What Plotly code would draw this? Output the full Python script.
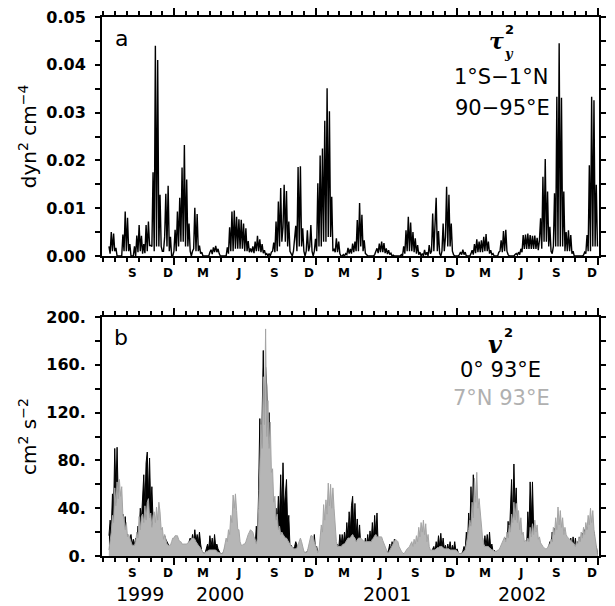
import pandas as pd
import plotly.graph_objects as go

# ---------------- data (3-day sampling starting 1999-07-16) ----------------
START = "1999-07-16"
STEP = "3D"

tau_y2 = [
    0.002, 0.0005, 0.005, 0.001, 0.0047, 0.001, 0.0017, 0, 0, 0,
    0, 0, 0.0045, 0.001, 0.0093, 0.001, 0.008, 0.001, 0.0025, 0,
    0, 0, 0.002, 0, 0.0043, 0.0008, 0.0065, 0.001, 0.0042, 0.0005,
    0.0025, 0.0006, 0.0065, 0.001, 0.0072, 0.0022, 0.0022, 0.002, 0.0175, 0.001,
    0.044, 0.002, 0.041, 0.002, 0.0128, 0.002, 0.001, 0.001, 0.004, 0.013,
    0.002, 0.0147, 0.001, 0.004, 0, 0, 0.001, 0.0055, 0.001, 0.0093,
    0.002, 0.0122, 0.003, 0.0185, 0.003, 0.0232, 0.002, 0.016, 0.002, 0.0068,
    0.001, 0, 0.001, 0.0015, 0.0101, 0.001, 0.0088, 0.001, 0.0022, 0.0005,
    0.0008, 0, 0, 0, 0, 0, 0, 0.0008, 0.0013, 0.0004,
    0.0018, 0.0008, 0.0021, 0.0008, 0.0015, 0.0005, 0, 0, 0, 0,
    0, 0, 0.0018, 0.0005, 0.006, 0.001, 0.0093, 0.001, 0.0095, 0.0015,
    0.0082, 0.0015, 0.0077, 0.0015, 0.0076, 0.0015, 0.0068, 0.001, 0.0058, 0.001,
    0.0031, 0.0008, 0.0016, 0.0008, 0.002, 0.0006, 0.003, 0.001, 0.0042, 0.001,
    0.0035, 0.0008, 0.0025, 0.0006, 0.0012, 0.0003, 0.0005, 0, 0.0005, 0,
    0.0008, 0.001, 0.0028, 0.0008, 0.0072, 0.001, 0.0114, 0.002, 0.0142, 0.003,
    0.006, 0.0149, 0.003, 0.0136, 0.002, 0.0072, 0.001, 0.0005, 0, 0.001,
    0.0035, 0.0063, 0.001, 0.0186, 0.002, 0.0188, 0.002, 0.0058, 0.001, 0,
    0.001, 0.0054, 0.001, 0.002, 0.0065, 0.001, 0, 0.001, 0.0036, 0.001,
    0.0152, 0.002, 0.021, 0.002, 0.0225, 0.003, 0.0283, 0.003, 0.0351, 0.004,
    0.0303, 0.004, 0.0124, 0.001, 0.0015, 0.0008, 0.0037, 0.0008, 0.003, 0.0005,
    0, 0, 0.0003, 0, 0.0005, 0.0003, 0.0017, 0.0005, 0.0015, 0.0005,
    0.0026, 0.0008, 0.003, 0.001, 0.0075, 0.001, 0.0111, 0.002, 0.0086, 0.001,
    0.0033, 0.0005, 0.0003, 0, 0, 0, 0, 0, 0, 0.0003,
    0.0008, 0.0016, 0.0006, 0.0026, 0.0008, 0.003, 0.0008, 0.0027, 0.0006, 0.0016,
    0.0004, 0.0012, 0.0003, 0.0006, 0, 0.0002, 0, 0, 0, 0,
    0, 0, 0.0003, 0, 0.002, 0.0005, 0.0054, 0.001, 0.0082, 0.001,
    0.007, 0.001, 0.005, 0.0008, 0.0037, 0.0005, 0.0023, 0.0003, 0.0008, 0,
    0.0005, 0, 0.0013, 0.0002, 0.0008, 0, 0.0023, 0.0005, 0.001, 0.0089,
    0.001, 0.006, 0.0122, 0.001, 0.0052, 0.0005, 0, 0.001, 0.0068, 0.001,
    0.004, 0.0145, 0.002, 0.0128, 0.002, 0.0068, 0.001, 0.0003, 0, 0,
    0, 0, 0.0003, 0.0008, 0.0003, 0.0013, 0.0003, 0.0008, 0, 0,
    0, 0, 0.0005, 0.0012, 0.0003, 0.0025, 0.0006, 0.0035, 0.0008, 0.003,
    0.0008, 0.0033, 0.0008, 0.004, 0.001, 0.0046, 0.001, 0.003, 0.0005, 0.0012,
    0.0003, 0.0005, 0, 0, 0, 0, 0.0008, 0.001, 0.0033, 0.0008,
    0.0052, 0.001, 0.0055, 0.001, 0.0003, 0, 0, 0, 0, 0,
    0.0003, 0.0005, 0.0002, 0.0008, 0.0003, 0.0015, 0.0008, 0.0044, 0.0015, 0.0045,
    0.0015, 0.0047, 0.0015, 0.0044, 0.0015, 0.0042, 0.0015, 0.0043, 0.0015, 0.0038,
    0.0012, 0.0033, 0.0079, 0.0015, 0.0166, 0.003, 0.0203, 0.003, 0.0135, 0.002,
    0.0061, 0.001, 0.0005, 0.002, 0.0131, 0.002, 0.0333, 0.002, 0.0445, 0.002,
    0.0331, 0.002, 0.0135, 0.001, 0.005, 0.001, 0.0054, 0.001, 0.0044, 0.0005,
    0.001, 0, 0, 0, 0, 0, 0, 0, 0, 0.0002,
    0.0008, 0.0005, 0.0044, 0.001, 0.019, 0.001, 0.0333, 0.002, 0.0326, 0.002,
    0.0149, 0.002,
]

v2_eq_93e = [
    17, 30, 22, 52, 40, 90, 55, 91, 48, 56,
    45, 28, 35, 22, 33, 18, 18, 10, 15, 18,
    10, 14, 9, 15, 12, 25, 20, 40, 30, 53,
    68, 42, 78, 87, 50, 82, 40, 58, 30, 30,
    28, 18, 22, 15, 20, 14, 18, 12, 17, 14,
    12, 10, 8, 8, 6, 6, 6, 7, 7, 7,
    8, 8, 8, 8, 8, 8, 9, 9, 9, 12,
    15, 10, 18, 12, 22, 12, 18, 11, 20, 10,
    4, 3, 2, 3, 6, 10, 6, 17, 8, 15,
    6, 18, 8, 10, 6, 3, 2, 2, 2, 4,
    8, 10, 7, 14, 9, 20, 12, 22, 14, 23,
    12, 16, 8, 8, 5, 5, 5, 5, 5, 5,
    5, 5, 5, 7, 5, 10, 8, 25, 12, 55,
    115, 60, 140, 172, 100, 158, 142, 90, 120, 60,
    60, 35, 48, 30, 40, 25, 50, 30, 68, 35,
    78, 40, 51, 64, 25, 34, 8, 9, 5, 7,
    8, 12, 8, 6, 5, 5, 5, 4, 3, 3,
    3, 4, 6, 8, 5, 12, 8, 18, 6, 8,
    3, 3, 4, 5, 5, 5, 5, 5, 5, 5,
    5, 5, 5, 5, 5, 5, 5, 10, 6, 18,
    8, 18, 10, 20, 12, 28, 15, 37, 20, 42,
    50, 22, 44, 18, 31, 14, 26, 8, 9, 10,
    6, 15, 8, 18, 10, 21, 12, 28, 15, 34,
    18, 36, 10, 15, 6, 5, 5, 5, 4, 3,
    3, 5, 10, 4, 12, 6, 14, 5, 8, 5,
    4, 3, 3, 2, 2, 2, 2, 2, 2, 3,
    3, 3, 3, 3, 4, 4, 4, 4, 4, 4,
    4, 4, 4, 4, 4, 3, 3, 3, 3, 6,
    8, 4, 12, 6, 17, 8, 19, 7, 15, 6,
    9, 4, 10, 5, 12, 4, 9, 5, 12, 4,
    6, 3, 2, 2, 2, 4, 8, 5, 20, 10,
    36, 20, 58, 30, 68, 40, 50, 20, 30, 12,
    22, 8, 15, 6, 17, 8, 18, 8, 20, 6,
    10, 4, 5, 3, 4, 3, 3, 4, 5, 8,
    10, 6, 15, 8, 29, 14, 50, 64, 30, 77,
    40, 57, 20, 30, 12, 23, 6, 10, 5, 12,
    8, 37, 20, 62, 30, 62, 23, 10, 5, 8,
    7, 6, 5, 5, 4, 4, 3, 3, 5, 8,
    12, 6, 20, 8, 23, 10, 18, 6, 13, 5,
    10, 5, 12, 6, 13, 6, 14, 6, 15, 6,
    16, 7, 15, 6, 12, 6, 16, 8, 19, 9,
    22, 10, 24, 12, 25, 12, 24, 10, 20, 8,
    8, 2,
]

v2_7n_93e = [
    5, 12, 20, 34, 28, 57, 42, 62, 48, 64,
    50, 58, 34, 31, 22, 28, 16, 18, 15, 12,
    9, 9, 9, 12, 20, 15, 33, 22, 33, 35,
    28, 42, 30, 45, 48, 32, 36, 24, 34, 37,
    28, 41, 30, 45, 37, 22, 24, 14, 18, 14,
    10, 9, 9, 9, 12, 15, 15, 17, 17, 17,
    14, 12, 12, 10, 10, 10, 10, 10, 11, 12,
    13, 14, 15, 15, 14, 12, 10, 9, 8, 6,
    4, 3, 2, 3, 4, 4, 5, 5, 5, 5,
    5, 5, 5, 4, 3, 3, 2, 2, 2, 5,
    10, 15, 12, 22, 18, 34, 28, 51, 40, 52,
    38, 22, 22, 12, 9, 9, 10, 10, 12, 16,
    18, 20, 22, 21, 20, 16, 14, 10, 15, 40,
    80, 110, 90, 150, 110, 190, 100, 130, 90, 112,
    70, 73, 45, 50, 30, 35, 22, 25, 18, 20,
    18, 16, 15, 15, 13, 12, 9, 8, 8, 6,
    6, 6, 7, 10, 13, 15, 12, 8, 4, 3,
    3, 4, 8, 12, 17, 17, 16, 12, 9, 7,
    3, 5, 15, 26, 20, 43, 30, 47, 35, 61,
    42, 60, 40, 57, 40, 25, 12, 8, 8, 8,
    8, 9, 10, 10, 12, 14, 15, 15, 15, 17,
    18, 16, 15, 12, 14, 15, 15, 15, 14, 13,
    12, 12, 12, 12, 12, 12, 12, 14, 15, 17,
    18, 16, 16, 16, 16, 16, 13, 10, 8, 4,
    3, 3, 5, 6, 8, 10, 12, 14, 13, 12,
    8, 5, 4, 3, 2, 3, 5, 6, 7, 8,
    10, 12, 8, 14, 10, 17, 12, 24, 16, 28,
    20, 30, 18, 27, 12, 18, 8, 5, 5, 5,
    5, 5, 6, 7, 7, 8, 8, 8, 7, 6,
    6, 6, 6, 6, 5, 5, 5, 5, 5, 5,
    4, 3, 2, 2, 2, 3, 4, 5, 10, 15,
    22, 30, 25, 45, 32, 65, 45, 70, 40, 48,
    35, 20, 15, 10, 8, 8, 8, 8, 7, 6,
    5, 5, 4, 4, 4, 5, 5, 7, 9, 12,
    14, 16, 12, 20, 15, 26, 20, 35, 28, 45,
    30, 44, 28, 38, 22, 32, 18, 20, 12, 13,
    12, 15, 12, 24, 16, 27, 18, 30, 20, 26,
    14, 16, 11, 9, 8, 7, 6, 6, 7, 9,
    10, 14, 12, 24, 18, 32, 22, 41, 26, 38,
    24, 32, 18, 24, 18, 16, 15, 14, 13, 12,
    11, 10, 8, 12, 10, 16, 12, 20, 15, 24,
    18, 28, 22, 34, 26, 40, 28, 38, 22, 15,
    10, 2,
]

month_tick_dates = [
    "1999-09-15", "1999-12-15", "2000-03-15", "2000-06-15", "2000-09-15",
    "2000-12-15", "2001-03-15", "2001-06-15", "2001-09-15", "2001-12-15",
    "2002-03-15", "2002-06-15", "2002-09-15", "2002-12-15",
]
month_tick_text = ["S", "D", "M", "J", "S", "D", "M", "J", "S", "D", "M", "J", "S", "D"]

year_labels = ["1999", "2000", "2001", "2002"]
year_label_dates = ["1999-10-03", "2000-04-27", "2001-07-04", "2002-06-17"]

tau_ticks = [0.0, 0.01, 0.02, 0.03, 0.04, 0.05]
tau_tick_text = ["0.00", "0.01", "0.02", "0.03", "0.04", "0.05"]
v2_ticks = [0, 40, 80, 120, 160, 200]
v2_tick_text = ["0.", "40.", "80.", "120.", "160.", "200."]

# ---------------- figure ----------------
dates = pd.date_range(START, periods=len(tau_y2), freq=STEP)

W, H = 615, 606
L, R, T, B = 102, 16, 17, 50
PW, PH = W - L - R, H - T - B


def pxx(x):
    return (x - L) / PW


def pxy(y):
    return (H - B - y) / PH


XR = ["1999-06-28", "2003-01-03"]
TOP_DOM = [pxy(256), 1.0]
BOT_DOM = [0.0, pxy(317)]

fig = go.Figure()
fig.add_trace(go.Scatter(x=dates, y=tau_y2, mode="lines",
                         line=dict(color="black", width=1.4),
                         xaxis="x", yaxis="y", showlegend=False))
fig.add_trace(go.Scatter(x=dates, y=v2_eq_93e, mode="lines",
                         line=dict(color="black", width=1),
                         fill="tozeroy", fillcolor="black",
                         xaxis="x2", yaxis="y2", showlegend=False))
fig.add_trace(go.Scatter(x=dates, y=v2_7n_93e, mode="lines",
                         line=dict(color="#a4a4a4", width=1),
                         fill="tozeroy", fillcolor="#b6b6b6",
                         xaxis="x2", yaxis="y2", showlegend=False))

tickfont = dict(family="DejaVu Sans", size=16, color="black")


def time_axis(anchor):
    return dict(type="date", range=XR, anchor=anchor, showline=True, linewidth=2,
                linecolor="black", mirror="allticks", ticks="outside", ticklen=7,
                tickwidth=2, tickcolor="black", tick0="2000-01-01", dtick="M12",
                showticklabels=False, showgrid=False, zeroline=False,
                minor=dict(ticks="outside", ticklen=4, tickwidth=2, tickcolor="black",
                           dtick="M1", tick0="2000-01-01", showgrid=False))


def val_axis(dom, rng, tickvals, ticktext, minor_dtick, title):
    return dict(domain=dom, range=rng, tickmode="array", tickvals=tickvals,
                ticktext=["<b>%s</b>" % t for t in ticktext],
                showline=True, linewidth=2,
                linecolor="black", mirror="allticks", ticks="outside", ticklen=5,
                tickwidth=2, tickcolor="black", showgrid=False, zeroline=False,
                tickfont=tickfont, ticklabelstandoff=6,
                minor=dict(ticks="outside", ticklen=5, tickwidth=2, tickcolor="black",
                           dtick=minor_dtick, tick0=0, showgrid=False),
                title=dict(text=title, standoff=4,
                           font=dict(family="DejaVu Sans", size=20, color="black")))


fig.update_layout(
    width=W, height=H, margin=dict(l=L, r=R, t=T, b=B, autoexpand=False),
    paper_bgcolor="white", plot_bgcolor="white", showlegend=False,
    xaxis=time_axis("y"),
    xaxis2=time_axis("y2"),
    yaxis=val_axis(TOP_DOM, [0, 0.05], tau_ticks, tau_tick_text, 0.005,
                   "dyn<sup>2</sup> cm<sup>−4</sup>"),
    yaxis2=val_axis(BOT_DOM, [0, 200], v2_ticks, v2_tick_text, 20,
                    "cm<sup>2</sup> s<sup>−2</sup>"),
)

ann = []


def add_text(text, x, y, size, color="black", family="DejaVu Sans"):
    ann.append(dict(text=text, x=pxx(x), y=pxy(y), xref="paper", yref="paper",
                    xanchor="center", yanchor="middle", showarrow=False,
                    font=dict(family=family, size=size, color=color)))


add_text("a", 121, 38, 22)
add_text("b", 121, 337, 22)
add_text("<b><i>τ</i></b>", 496, 41, 22, family="DejaVu Serif")
add_text("<b><i>y</i></b>", 509, 54, 13, family="DejaVu Serif")
add_text("<b>2</b>", 509, 30, 13)
add_text("1°S−1°N", 501, 77, 21)
add_text("90−95°E", 502, 108, 21)
add_text("<b><i>v</i></b>", 495, 344, 24, family="DejaVu Serif")
add_text("<b>2</b>", 508, 332, 13)
add_text("0° 93°E", 500, 370, 21)
add_text("7°N 93°E", 501, 398, 21, color="#b0b0b0")

# month initials under each panel
for xref, ypix in (("x", 273), ("x2", 573)):
    for lab, d in zip(month_tick_text, month_tick_dates):
        ann.append(dict(text="<b>%s</b>" % lab, x=d, y=pxy(ypix), xref=xref, yref="paper",
                        xanchor="center", yanchor="middle", showarrow=False,
                        font=dict(family="DejaVu Sans", size=12, color="black")))

for lab, d in zip(year_labels, year_label_dates):
    ann.append(dict(text=lab, x=d, y=pxy(594), xref="x2", yref="paper",
                    xanchor="center", yanchor="middle", showarrow=False,
                    font=dict(family="DejaVu Sans", size=19, color="black")))

fig.update_layout(annotations=ann)
fig.write_html("out.html")
